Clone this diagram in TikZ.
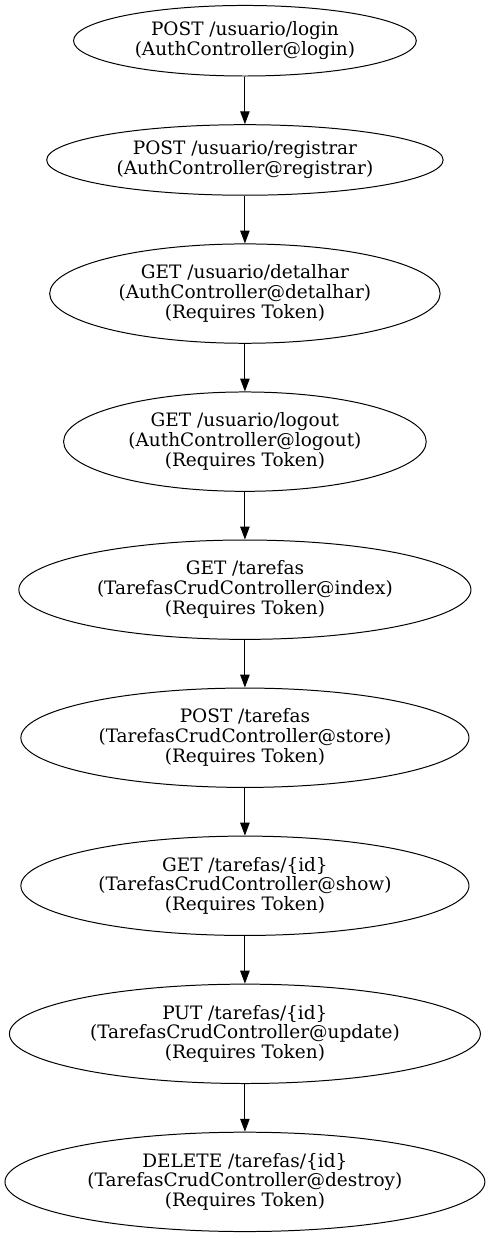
\documentclass[tikz,border=0pt]{standalone}
\usepackage{fontspec}
\setmainfont{DejaVu Serif}
\usetikzlibrary{arrows.meta,shapes.geometric,positioning}
\tikzset{endpoint/.style={ellipse, draw, line width=1pt, align=center, inner sep=0pt, minimum height=100pt, font=\fontsize{18.6}{20}\selectfont}}
\tikzset{shortpoint/.style={endpoint, minimum height=71pt}}

\begin{document}
\begin{tikzpicture}[node distance=48pt]
% Nodes
\node (login) [shortpoint, minimum width=345pt] {POST /usuario/login\\(AuthController@login)};
\node (registrar) [shortpoint, minimum width=399pt, below=of login] {POST /usuario/registrar\\(AuthController@registrar)};
\node (detalhar) [endpoint, minimum width=393pt, below=of registrar] {GET /usuario/detalhar\\(AuthController@detalhar)\\(Requires Token)};
\node (logout) [endpoint, minimum width=365pt, below=of detalhar] {GET /usuario/logout\\(AuthController@logout)\\(Requires Token)};
\node (index) [endpoint, minimum width=455pt, below=of logout] {GET /tarefas\\(TarefasCrudController@index)\\(Requires Token)};
\node (store) [endpoint, minimum width=451pt, below=of index] {POST /tarefas\\(TarefasCrudController@store)\\(Requires Token)};
\node (show) [endpoint, minimum width=451pt, below=of store] {GET /tarefas/\{id\}\\(TarefasCrudController@show)\\(Requires Token)};
\node (update) [endpoint, minimum width=474pt, below=of show] {PUT /tarefas/\{id\}\\(TarefasCrudController@update)\\(Requires Token)};
\node (destroy) [endpoint, minimum width=483pt, below=of update] {DELETE /tarefas/\{id\}\\(TarefasCrudController@destroy)\\(Requires Token)};

% Connectors
\begin{scope}[-{Triangle[length=13pt, width=9.5pt]}, line width=1pt]
\foreach \a/\b in {login/registrar, registrar/detalhar, detalhar/logout, logout/index, index/store, store/show, show/update, update/destroy}
  \draw (\a) -- (\b);
\end{scope}

% Margins
\path ([xshift=-246.5pt, yshift=5pt]login.north) rectangle ([xshift=246.5pt, yshift=-6pt]destroy.south);
\end{tikzpicture}
\end{document}
